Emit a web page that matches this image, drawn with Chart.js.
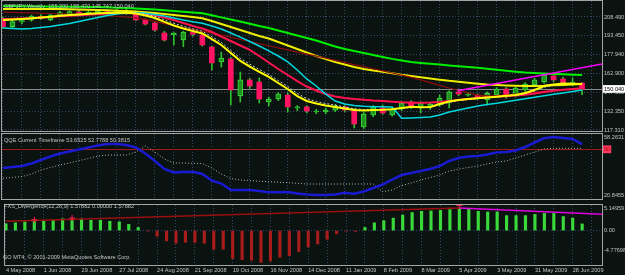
<!DOCTYPE html>
<html>
<head>
<meta charset="utf-8">
<script src="https://cdn.jsdelivr.net/npm/chart.js@4.4.1/dist/chart.umd.min.js"></script>
<style>
  html, body { margin: 0; padding: 0; background: #0a130f; }
  #wrap { position: relative; width: 625px; height: 275px; overflow: hidden; background: #0a130f; }
  canvas { position: absolute; left: 0; }
</style>
</head>
<body>
<div id="wrap">
  <canvas id="price" width="625" height="133" style="top:0"></canvas>
  <canvas id="qqe" width="625" height="67" style="top:133px"></canvas>
  <canvas id="fxs" width="625" height="75" style="top:200px"></canvas>
</div>
<script>
// weekly GBPJPY, one label every 4 bars
const weekLabels = ['4 May 2008', '1 Jun 2008', '29 Jun 2008', '27 Jul 2008', '24 Aug 2008', '21 Sep 2008',
  '19 Oct 2008', '16 Nov 2008', '14 Dec 2008', '11 Jan 2009', '8 Feb 2009', '8 Mar 2009', '5 Apr 2009',
  '3 May 2009', '31 May 2009', '28 Jun 2009'];

const open = [207.4, 200.7, 204.5, 206.0, 209.0, 206.1, 210.1, 210.5, 212.5, 211.5, 212.0, 213.0, 212.0, 213.5,
  210.9, 206.1, 203.6, 195.6, 194.0, 189.9, 196.0, 194.0, 184.3, 172.2, 174.6, 144.7, 157.7, 156.0, 139.9, 142.3,
  145.5, 135.1, 135.9, 131.8, 131.8, 133.4, 135.9, 133.4, 119.7, 129.4, 135.1, 129.4, 134.3, 139.9, 135.9, 135.9,
  137.5, 139.9, 148.0, 145.5, 145.5, 141.5, 145.5, 150.4, 145.5, 149.6, 153.6, 156.0, 160.9, 158.5, 155.2, 155.2];
const high = [208.5, 206.0, 207.0, 210.0, 210.5, 211.0, 213.0, 213.5, 214.0, 213.5, 214.5, 214.5, 215.0, 215.0,
  212.5, 207.0, 204.5, 197.0, 196.0, 197.0, 197.5, 195.5, 185.0, 180.2, 176.0, 164.1, 159.0, 159.3, 143.9, 147.5,
  147.2, 137.0, 137.0, 134.0, 135.0, 138.0, 137.0, 134.5, 131.5, 137.0, 137.5, 135.5, 140.0, 141.0, 140.0, 139.5,
  145.5, 149.0, 149.5, 147.5, 146.5, 148.0, 151.5, 151.5, 152.5, 155.5, 159.0, 163.0, 162.5, 160.0, 159.3, 155.47];
const low = [199.5, 199.5, 203.0, 205.0, 206.5, 205.5, 209.0, 210.0, 210.5, 210.0, 211.0, 210.5, 211.0, 210.5,
  205.5, 202.0, 197.0, 189.0, 186.0, 184.5, 193.0, 185.0, 165.7, 168.1, 137.5, 139.9, 151.0, 139.1, 136.7, 141.0,
  131.8, 133.0, 131.0, 130.5, 130.5, 132.0, 132.0, 118.9, 118.5, 128.0, 130.0, 128.5, 133.0, 134.5, 130.9, 134.0,
  136.5, 135.1, 145.0, 144.5, 142.0, 137.5, 144.0, 143.0, 144.5, 148.5, 152.5, 155.0, 156.5, 154.0, 153.0, 145.75];
const close = [200.7, 204.7, 205.5, 209.3, 207.5, 210.0, 212.0, 212.8, 211.5, 212.5, 213.0, 212.0, 213.5, 211.2,
  206.1, 202.8, 198.0, 189.9, 195.5, 196.4, 194.5, 185.9, 171.4, 175.4, 149.6, 157.7, 152.8, 142.3, 142.3, 146.3,
  135.9, 135.9, 132.6, 132.6, 133.4, 136.7, 133.4, 122.1, 130.2, 135.9, 131.0, 134.3, 139.1, 135.9, 139.1, 138.3,
  143.1, 148.0, 146.3, 146.3, 143.1, 146.9, 150.4, 144.0, 151.2, 154.4, 157.7, 161.7, 157.7, 155.2, 156.0, 150.04];

// moving averages
const maGreen = [217.4, 217.3, 217.2, 217.1, 217.0, 217.0, 216.9, 216.8, 216.7, 216.6, 216.6, 216.3, 216.0, 215.7,
  215.4, 214.9, 214.5, 213.9, 213.3, 212.8, 212.1, 211.5, 209.9, 208.2, 206.5, 204.8, 203.0, 201.2, 199.6, 197.6,
  195.6, 193.6, 191.5, 189.5, 187.1, 184.7, 182.7, 181.1, 179.4, 177.8, 176.2, 174.7, 173.4, 172.2, 171.4, 170.7,
  170.1, 169.4, 168.8, 168.1, 167.5, 166.8, 166.0, 165.2, 164.4, 163.7, 163.3, 162.9, 162.5, 162.2, 161.9, 161.7];
const maYellow = [214.9, 214.9, 214.9, 214.9, 214.9, 214.9, 214.9, 214.8, 214.6, 214.4, 214.1, 213.9, 213.6, 213.3,
  212.9, 212.4, 211.7, 210.9, 210.1, 209.3, 208.5, 207.4, 205.3, 202.8, 200.4, 198.0, 195.6, 193.2, 191.1, 188.3,
  185.5, 182.7, 179.8, 177.0, 174.6, 172.2, 170.1, 168.1, 166.5, 165.3, 164.3, 163.1, 161.8, 160.9, 159.8, 158.9,
  157.9, 157.0, 156.3, 155.5, 154.7, 154.0, 153.6, 153.3, 153.0, 152.8, 152.8, 153.0, 153.4, 153.6, 154.0, 154.4];
const maDarkRed = [212.5, 212.3, 212.0, 211.8, 211.6, 211.3, 211.1, 210.8, 210.6, 210.3, 210.1, 209.6, 209.1, 208.5,
  207.8, 206.5, 204.9, 203.2, 201.6, 200.0, 198.6, 197.2, 195.5, 193.8, 192.1, 190.4, 188.7, 187.0, 185.3, 183.6,
  181.9, 180.2, 178.5, 176.9, 175.2, 173.5, 171.8, 170.1, 168.4, 166.7, 165.0, 163.3, 161.6, 159.8, 157.7, 155.5,
  153.3, 151.2, 149.2, 147.2, 145.5, 144.9, 145.1, 145.5, 146.2, 146.9, 147.6, 148.4, 149.0, 149.6, 150.0, 150.4];
const maRed = [206.9, 207.0, 207.3, 207.5, 207.8, 208.5, 209.0, 209.5, 209.9, 210.4, 210.9, 211.2, 211.6, 211.7,
  211.5, 210.7, 209.7, 208.1, 206.1, 203.6, 201.2, 199.2, 196.4, 192.7, 189.1, 185.5, 181.9, 177.0, 171.8, 166.5,
  161.7, 156.8, 152.4, 149.2, 146.3, 144.3, 143.1, 142.3, 141.7, 141.1, 140.7, 140.1, 139.6, 139.3, 139.2, 139.4,
  139.9, 140.7, 141.5, 142.3, 143.1, 143.8, 144.2, 144.7, 145.1, 145.7, 146.8, 148.0, 148.9, 149.7, 150.4, 150.9];
const maCyan = [199.6, 199.2, 198.8, 199.2, 200.0, 200.8, 202.0, 203.2, 204.9, 206.5, 208.1, 209.7, 210.9, 211.7,
  211.9, 211.6, 210.5, 209.3, 207.7, 206.1, 204.6, 203.4, 201.2, 198.8, 195.6, 192.3, 188.7, 185.1, 181.1, 177.0,
  172.2, 165.7, 158.5, 152.8, 146.3, 140.7, 138.3, 137.1, 136.5, 136.1, 136.1, 135.8, 126.7, 127.0, 127.4, 127.8,
  129.4, 131.8, 133.4, 135.1, 136.7, 137.9, 138.8, 140.1, 141.3, 142.5, 143.7, 144.9, 146.1, 147.2, 148.4, 149.6];
const maFast = [206.1, 206.5, 206.9, 207.4, 208.1, 208.7, 209.5, 210.1, 210.6, 211.1, 211.5, 211.7, 211.9, 212.0,
  211.3, 209.7, 207.7, 204.5, 201.6, 199.2, 197.2, 195.2, 190.7, 185.9, 179.4, 173.0, 168.5, 164.3, 160.1, 155.2,
  150.4, 144.7, 140.7, 138.7, 137.1, 135.9, 134.6, 133.4, 133.0, 133.4, 133.6, 134.0, 135.1, 136.1, 135.6, 135.9,
  138.3, 140.3, 141.5, 142.3, 142.9, 143.5, 144.2, 144.9, 145.5, 147.2, 149.6, 152.8, 154.0, 154.8, 154.7, 154.4];
const maFastSignal = [205.7, 206.1, 206.5, 207.0, 207.7, 208.3, 209.1, 209.7, 210.2, 210.7, 211.1, 211.4, 211.6, 211.8,
  211.8, 210.8, 209.0, 206.2, 203.4, 201.0, 198.9, 196.9, 192.6, 188.0, 181.6, 175.2, 170.4, 166.2, 162.0, 157.2,
  152.4, 146.8, 142.6, 140.4, 138.7, 137.3, 135.8, 134.5, 133.8, 133.7, 133.6, 133.8, 134.6, 135.6, 135.6, 135.7,
  137.6, 139.6, 141.0, 141.9, 142.6, 143.2, 143.9, 144.6, 145.2, 146.6, 148.8, 151.8, 153.3, 154.3, 154.5, 154.5];
const trendLine = [[47.9, 149.0], [63.16, 170.6]];
const priceTicks = [208.49, 193.45, 177.94, 162.90, 147.39, 132.35, 117.31];
const lastPrice = 150.04;

// QQE pane
const qqeFast = [38.26, 38.91, 39.55, 41.17, 43.42, 45.68, 47.62, 48.91, 50.20, 51.49, 52.78, 53.75, 53.75, 53.10,
  51.49, 47.62, 42.78, 37.62, 35.36, 35.68, 35.88, 34.39, 30.20, 28.26, 24.07, 24.07, 24.07, 23.43, 22.59, 22.59,
  22.78, 21.81, 21.20, 20.85, 20.90, 21.17, 22.33, 21.69, 23.10, 25.36, 27.62, 30.84, 33.75, 35.04, 36.33, 37.62,
  39.55, 42.78, 44.71, 45.68, 46.00, 46.97, 48.26, 48.58, 49.55, 51.81, 54.71, 57.42, 58.26, 57.68, 56.97, 53.65];
const qqeSlow = [31.62, 32.13, 32.78, 34.39, 36.97, 38.58, 40.20, 41.49, 42.97, 44.39, 46.00, 46.65, 46.65, 46.65,
  48.58, 52.45, 48.58, 44.07, 41.49, 41.49, 41.29, 41.17, 38.26, 34.39, 31.49, 30.52, 30.20, 29.68, 29.43, 29.10,
  28.78, 28.39, 27.94, 27.94, 27.94, 27.94, 27.94, 27.94, 27.94, 27.94, 22.97, 24.07, 26.97, 28.59, 30.52, 32.13,
  33.75, 36.33, 37.62, 38.58, 39.55, 40.84, 42.13, 42.78, 44.71, 46.65, 48.58, 50.52, 50.97, 50.97, 50.97, 50.97];
const qqeTicks = [58.2631, 50, 20.8455];
const qqeLevel = 50;

// FXS divergence pane
const fxsHist = [1.61, 1.83, 2.05, 2.34, 2.20, 2.43, 2.78, 2.78, 2.72, 2.43, 2.43, 2.20, 2.05, 1.46, 0.73, -0.08,
  -1.32, -2.43, -2.96, -2.74, -2.80, -2.96, -4.40, -4.40, -6.60, -6.84, -7.00, -7.50, -7.15, -6.27, -5.90, -4.94,
  -3.84, -3.15, -2.07, -0.75, -0.15, -0.20, 0.73, 1.83, 2.34, 2.94, 3.66, 4.26, 4.55, 4.64, 4.77, 4.95, 5.15, 5.00,
  4.55, 4.40, 4.40, 3.53, 3.53, 3.53, 3.82, 4.04, 4.04, 3.31, 2.94, 1.58];
const divLineUp = [[0, 2.2], [48, 5.3]];
const divLineDown = [[48, 5.3], [63.16, 3.82]];
const divMarks = [[3, 2.56], [7, 2.94], [48, 5.9]];
const fxsTicks = [5.14959, 0, -4.77698];

const gridColor = '#3a4868';
const textColor = '#c4c4c4';
const frameColor = '#a4a4a4';
const font = { family: '"Liberation Sans", Arial, sans-serif', size: 5.6 };
const gridBars = Array.from({ length: 32 }, (_, i) => i * 2);

const pts = arr => arr.map((v, i) => ({ x: i, y: v }));
const pairs = arr => arr.map(([x, y]) => ({ x, y }));

function xAxis(showLabels) {
  return {
    type: 'linear', min: -0.1, max: 63.1, offset: false, bounds: 'data',
    afterBuildTicks: s => { s.ticks = gridBars.map(v => ({ value: v })); },
    afterFit: s => { s.height = showLabels ? 10 : 0; s.paddingLeft = 0; s.paddingRight = 0; },
    grid: { color: gridColor, drawTicks: false, offset: false },
    border: { display: false, dash: [1, 2] },
    ticks: {
      display: showLabels, autoSkip: false, maxRotation: 0, align: 'start', padding: 2,
      color: textColor, font,
      callback: v => (v % 4 === 0 && weekLabels[v / 4]) ? weekLabels[v / 4] : ''
    }
  };
}

function yAxis(min, max, tickValues, extra) {
  return Object.assign({
    position: 'right', min, max, bounds: 'data',
    afterBuildTicks: s => { s.ticks = tickValues.map(v => ({ value: v })); },
    afterFit: s => { s.width = 23; s.paddingTop = 0; s.paddingBottom = 0; },
  }, extra);
}

const frame = {
  id: 'frame',
  afterDraw(chart) {
    const a = chart.chartArea, c = chart.ctx;
    c.save();
    c.strokeStyle = frameColor;
    c.lineWidth = 1;
    c.strokeRect(a.left - 0.5, a.top - 0.5, a.right - a.left + 1, a.bottom - a.top + 1);
    c.restore();
  }
};

function captions(items) {
  return {
    id: 'captions',
    afterDraw(chart) {
      const c = chart.ctx;
      c.save();
      c.font = '5.6px "Liberation Sans", Arial, sans-serif';
      c.fillStyle = textColor;
      items.forEach(([t, x, y]) => c.fillText(t, x, y));
      c.restore();
    }
  };
}

const base = {
  responsive: false, animation: false, devicePixelRatio: 1, events: [],
  plugins: { legend: { display: false }, tooltip: { enabled: false } }
};

const line = (data, color, width, extra) => Object.assign({
  type: 'line', data, borderColor: color, borderWidth: width, pointRadius: 0, tension: 0, fill: false
}, extra);

// ---- price pane
const isBull = i => close[i] >= open[i];
new Chart(document.getElementById('price'), {
  type: 'bar',
  data: {
    datasets: [
      line(pairs(trendLine), '#ff00ff', 1.5),
      line(pts(maFast), '#ffff00', 2),
      line(pts(maFastSignal), '#d0d0d0', 1, { borderDash: [2, 2] }),
      line(pts(maCyan), '#00d8e0', 1.5),
      line(pts(maRed), '#ff1450', 2),
      line(pts(maDarkRed), '#8e0c0c', 1.2),
      line(pts(maYellow), '#eeee00', 2),
      line(pts(maGreen), '#00ee00', 2),
      {
        data: open.map((o, i) => ({ x: i, y: [o, close[i]] })),
        grouped: false, barThickness: 5, minBarLength: 1, borderSkipped: false,
        backgroundColor: c => isBull(c.dataIndex) ? '#1f921f' : '#ff1464',
        borderColor: c => isBull(c.dataIndex) ? '#3ad83a' : '#ff1464',
        borderWidth: c => isBull(c.dataIndex) ? 1 : 0
      },
      {
        data: low.map((l, i) => ({ x: i, y: [l, high[i]] })),
        grouped: false, barThickness: 1, backgroundColor: '#2fc02f', borderWidth: 0
      }
    ]
  },
  options: Object.assign({}, base, {
    layout: { padding: { left: 2, top: 1, right: 0, bottom: 2 } },
    scales: {
      x: xAxis(false),
      y: yAxis(116.49, 221.40, priceTicks.concat([lastPrice]), {
        grid: { drawTicks: false, color: c => c.tick && c.tick.value === lastPrice ? '#8a8a8a' : gridColor },
        border: { display: false, dash: c => c.tick && c.tick.value === lastPrice ? [] : [1, 2] },
        ticks: {
          padding: 2, font,
          color: c => c.tick && c.tick.value === lastPrice ? '#000000' : textColor,
          showLabelBackdrop: c => !!(c.tick && c.tick.value === lastPrice),
          backdropColor: '#ffffff', backdropPadding: { left: 1, right: 4, top: 1, bottom: 0 },
          callback: v => v.toFixed(3)
        }
      })
    }
  }),
  plugins: [frame, captions([['GBPJPY,Weekly  155.200 155.470 145.747 150.040', 4, 8]])]
});

// ---- QQE pane
new Chart(document.getElementById('qqe'), {
  type: 'line',
  data: {
    datasets: [
      line(pts(qqeFast), '#1a1ad0', 2.5),
      line(pts(qqeSlow), '#b4b4b4', 1, { borderDash: [1, 2] })
    ]
  },
  options: Object.assign({}, base, {
    layout: { padding: { left: 2, top: 1, right: 0, bottom: 1 } },
    scales: {
      x: xAxis(false),
      y: yAxis(18.27, 60.20, qqeTicks, {
        grid: { drawTicks: false, color: c => c.tick && c.tick.value === qqeLevel ? '#a41818' : 'rgba(0,0,0,0)' },
        border: { display: false },
        ticks: {
          padding: 2, font,
          color: c => c.tick && c.tick.value === qqeLevel ? '#b00000' : textColor,
          showLabelBackdrop: c => !!(c.tick && c.tick.value === qqeLevel),
          backdropColor: '#ff3a66', backdropPadding: { left: 1, right: 1, top: 1, bottom: 0 },
          callback: v => String(v)
        }
      })
    }
  }),
  plugins: [frame, captions([['QQE Current Timeframe 53.6525 52.7788 50.3815', 4, 9]])]
});

// ---- FXS divergence pane
new Chart(document.getElementById('fxs'), {
  type: 'bar',
  data: {
    datasets: [
      line(pairs(divMarks), '#ff2050', 1, { showLine: false, pointStyle: 'cross', pointRadius: 3, pointBorderColor: '#ff2050', pointBorderWidth: 1 }),
      line(pairs(divLineDown), '#e000e0', 1.5),
      line(pairs(divLineUp), '#9a1010', 1.5),
      {
        data: pts(fxsHist).filter(p => p.y >= 0),
        grouped: false, barThickness: 2.5, backgroundColor: '#3ad83a', borderWidth: 0
      },
      {
        data: pts(fxsHist).filter(p => p.y < 0),
        grouped: false, barThickness: 2.5, backgroundColor: '#a81c1c', borderWidth: 0
      }
    ]
  },
  options: Object.assign({}, base, {
    layout: { padding: { left: 2, top: 1, right: 0, bottom: 0 } },
    scales: {
      x: xAxis(true),
      y: yAxis(-8.10, 6.03, fxsTicks, {
        grid: { drawTicks: false, color: c => c.tick && c.tick.value === 0 ? '#34407a' : 'rgba(0,0,0,0)' },
        border: { display: false, dash: [1, 2] },
        ticks: { padding: 2, font, color: textColor, callback: v => v === 0 ? '0.00' : String(v) }
      })
    }
  }),
  plugins: [frame, captions([
    ['FXS_Divergence(12,26,9) 1.57882 0.00000 1.57882', 4, 8],
    ['GO MT4, \u00a9 2001-2009 MetaQuotes Software Corp.', 3, 59]
  ])]
});
</script>
</body>
</html>
